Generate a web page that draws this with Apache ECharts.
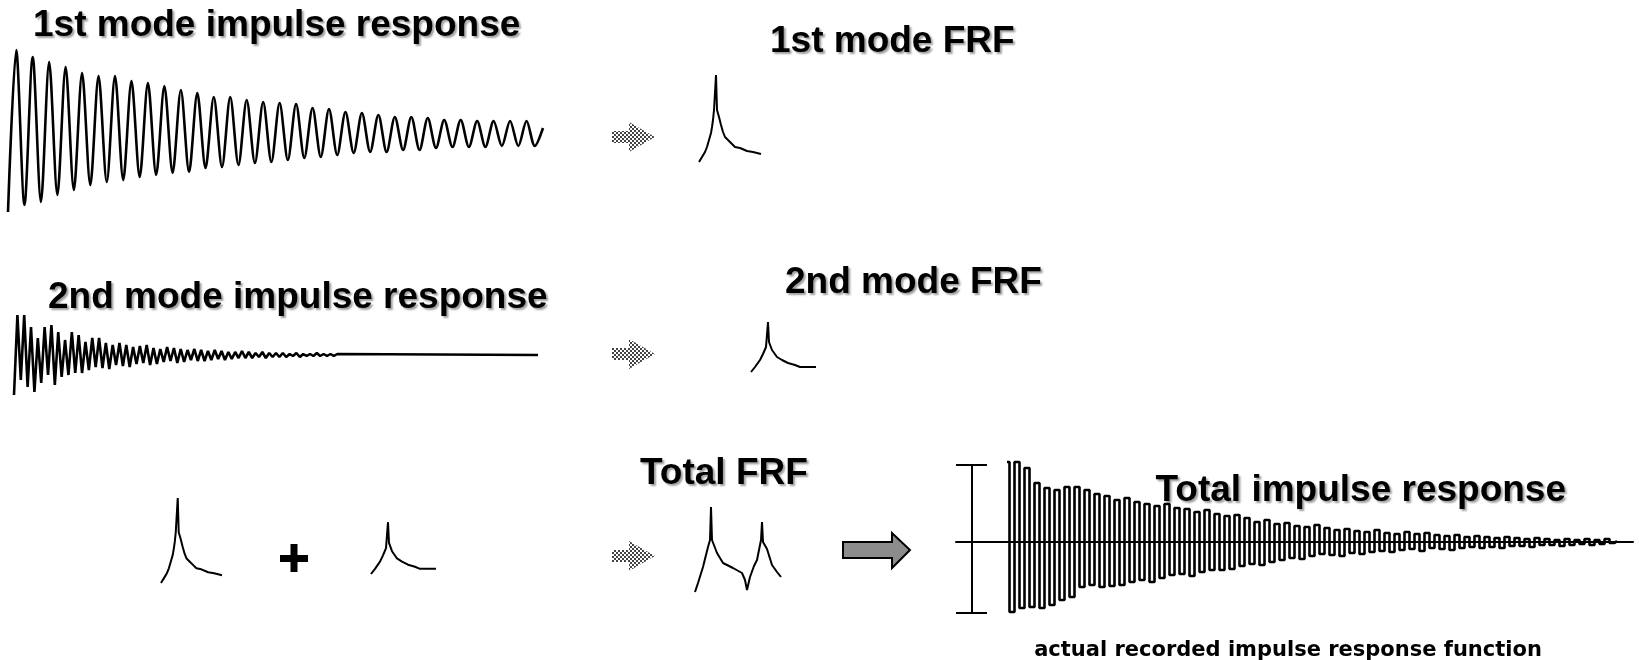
<!DOCTYPE html>
<html><head><meta charset="utf-8">
<script src="https://cdn.jsdelivr.net/npm/echarts@6/dist/echarts.min.js"></script>
<style>html,body{margin:0;padding:0;background:#fff}#c{width:1639px;height:660px}</style>
</head><body><div id="c"></div>
<script>
// ---- data (alternating extremes of each decaying oscillation) ----
const mode1Impulse = [-80,82, -73,75, -70,70, -63,65, -58,59, -53,56, -50,56, -48,51, -45,49, -43,46,
  -41,42, -40,39, -36,35, -35,35, -33,32, -31,30, -30,29, -28,28, -26,24, -25,23, -23,20, -21,19,
  -20,17, -20,15, -18,15, -18,14, -16,12, -15,12, -15,11, -15,11, -14,11, -14,11, -14,4];
const mode2Impulse = [-40,40, -25,40, -32,28, -37,17, -28,28, -20,30, -30,23, -22,15, -20,23, -18,20,
  -18,13, -15,17, -12,17, -13,12, -14,10, -10,12, -11,10, -12,8, -9,9, -8,10, -10,7, -9,6, -7,8, -6,7,
  -8,6, -7,5, -5,6, -6,5, -6,4, -5,5, -4,4, -5,3, -4,3, -3,4, -3,3, -3,2, -2,3, -3,2, -2,2, -2,2,
  -2,1, -1,2, -2,1, -1,1, -1,2, -1,1, -1,1, -1,1];
const mode2RecordEnd = 154;   // time index where the recording ends (flat tail)
const mode2TailValue = 0;
const totalImpulse = [80,-70, 80,-66, 74,-65, 59,-66, 54,-63, 52,-58, 55,-55, 55,-45, 52,-43, 48,-45,
  46,-44, 42,-43, 44,-40, 40,-38, 38,-40, 36,-36, 38,-33, 34,-32, 33,-34, 30,-30, 32,-28, 28,-28,
  26,-27, 27,-24, 24,-22, 20,-23, 22,-20, 18,-18, 19,-16, 16,-17, 15,-14, 17,-12, 14,-13, 12,-14,
  13,-11, 11,-12, 10,-10, 12,-9, 9,-10, 8,-8, 10,-7, 8,-9, 9,-6, 7,-7, 6,-8, 7,-6, 5,-5, 6,-6,
  5,-5, 4,-6, 5,-4, 4,-4, 3,-5, 4,-3, 3,-3, 2,-4, 3,-3, 2,-2, 3,-3, 2,-2, 3,-1, 1];
const frf1Freq = [0,3,6,8,10,12,13,14,15,17,18,20,22,24,26,29,33,36,41,48,54,62];
const frf1Mag  = [0,5,10,15,22,29,35,42,52,87,52,45,37,30,25,22,18,15,14,11,10,8];
const frf2Freq = [0,4,9,12,15,17,18,21,26,31,37,44,49,65];
const frf2Mag  = [0,5,12,18,25,50,30,22,15,12,9,7,5,5];
const totalFrfFreq = [0,3,8,13,15,16,17,22,28,38,47,50,52,55,59,62,65,66,67,68,72,77,82,86];
const totalFrfMag  = [0,9,25,45,52,85,52,39,29,24,19,12,2,15,26,32,47,52,70,50,43,27,20,15];
const titleTexts = ['1st mode impulse response','1st mode FRF','2nd mode impulse response',
  '2nd mode FRF','Total FRF','Total impulse response'];
const captionText = 'actual recorded impulse response function';

// ---- chart ----
const chart = echarts.init(document.getElementById('c'), null, {renderer:'canvas'});
const seq = ys => ys.map((y,i)=>[i,y]);
const zip = (xs,ys) => xs.map((x,i)=>[x,ys[i]]);

const panels = [
  {g:{left:8,top:42,width:535,height:180}, x:[0,mode1Impulse.length-1], y:[-90,90]},
  {g:{left:699,top:72,width:62,height:90}, x:[0,62], y:[0,90]},
  {g:{left:14,top:305,width:524,height:100}, x:[0,mode2RecordEnd], y:[-50,50]},
  {g:{left:751,top:317,width:65,height:55}, x:[0,65], y:[0,55]},
  {g:{left:161,top:495,width:61,height:88}, x:[0,62], y:[0,90]},
  {g:{left:371,top:517,width:65,height:57}, x:[0,65], y:[0,55]},
  {g:{left:695,top:502,width:86,height:90}, x:[0,86], y:[0,90]},
  {g:{left:956,top:452,width:677,height:180}, x:[-10.2,125.2], y:[-90,90]}
];
const grids = panels.map(p=>Object.assign({containLabel:false}, p.g));
const xAxes = panels.map((p,i)=>({type:'value', gridIndex:i, min:p.x[0], max:p.x[1],
  show: i===7, axisLine:{show:i===7, onZero:true, lineStyle:{color:'#000', width:2}},
  axisTick:{show:false}, axisLabel:{show:false}, splitLine:{show:false}}));
const yAxes = panels.map((p,i)=>({type:'value', gridIndex:i, min:p.y[0], max:p.y[1], show:false,
  splitLine:{show:false}}));

const lineS = (i, data, opts) => Object.assign({type:'line', xAxisIndex:i, yAxisIndex:i, data, showSymbol:false,
  symbol:'none', lineStyle:{color:'#000', width:2}, silent:true, z:3}, opts||{});

const mode2Data = seq(mode2Impulse).concat([[mode2RecordEnd, mode2TailValue]]);

const series = [
  lineS(0, seq(mode1Impulse), {smooth:0.3, lineStyle:{color:'#000', width:2.6}}),
  lineS(1, zip(frf1Freq, frf1Mag)),
  lineS(2, mode2Data, {lineStyle:{color:'#000', width:2.6}}),
  lineS(3, zip(frf2Freq, frf2Mag)),
  lineS(4, zip(frf1Freq, frf1Mag)),
  lineS(5, zip(frf2Freq, frf2Mag)),
  lineS(6, zip(totalFrfFreq, totalFrfMag)),
  lineS(7, seq(totalImpulse), {step:'middle', lineStyle:{color:'#000', width:2.6}})
];

// dotted fill pattern for the small arrows
const pc = document.createElement('canvas'); pc.width = 4; pc.height = 4;
const pg = pc.getContext('2d');
pg.fillStyle = '#fff'; pg.fillRect(0,0,4,4);
pg.fillStyle = '#444'; pg.fillRect(0,0,2,2); pg.fillRect(2,2,2,2);
const dotFill = {image: pc, repeat: 'repeat'};

function dottedArrow(cy){
  return {type:'polygon', silent:true, shape:{points:[[612,cy-6],[629,cy-6],[629,cy-15],[655,cy],[629,cy+15],[629,cy+6],[612,cy+6]]},
    style:{fill:dotFill, stroke:null}};
}
const titleFont = 'bold 37px "Liberation Sans", Arial, sans-serif';
function title(text, x, y, align){
  return {type:'text', silent:true, z:10, style:{text, x, y, align:align||'left', verticalAlign:'middle',
    font:titleFont, fill:'#000', textShadowColor:'rgba(0,0,0,0.38)', textShadowBlur:2,
    textShadowOffsetX:2, textShadowOffsetY:2}};
}

const graphics = [
  title(titleTexts[0], 33, 26),
  title(titleTexts[1], 770, 42),
  title(titleTexts[2], 48, 298),
  title(titleTexts[3], 785, 283),
  title(titleTexts[4], 640, 474),
  title(titleTexts[5], 1566, 491, 'right'),
  {type:'text', silent:true, style:{text:captionText, x:1288, y:651, align:'center', verticalAlign:'middle',
    font:'bold 21px "DejaVu Sans", sans-serif', fill:'#000'}},
  dottedArrow(137), dottedArrow(354), dottedArrow(556),
  // plus sign
  {type:'rect', silent:true, shape:{x:280, y:555, width:28, height:7}, style:{fill:'#000'}},
  {type:'rect', silent:true, shape:{x:290.5, y:544, width:7, height:28}, style:{fill:'#000'}},
  // solid block arrow
  {type:'polygon', silent:true, shape:{points:[[843,542],[892,542],[892,533],[910,550],[892,568],[892,558],[843,558]]},
    style:{fill:'#8c8c8c', stroke:'#000', lineWidth:2}},
  // scale bracket
  {type:'line', silent:true, shape:{x1:972,y1:465,x2:972,y2:613}, style:{stroke:'#000', lineWidth:2}},
  {type:'line', silent:true, shape:{x1:956,y1:465,x2:987,y2:465}, style:{stroke:'#000', lineWidth:2}},
  {type:'line', silent:true, shape:{x1:956,y1:613,x2:987,y2:613}, style:{stroke:'#000', lineWidth:2}}
];

chart.setOption({
  animation:false,
  backgroundColor:'#fff',
  grid: grids, xAxis: xAxes, yAxis: yAxes, series,
  graphic: graphics
});
</script></body></html>
